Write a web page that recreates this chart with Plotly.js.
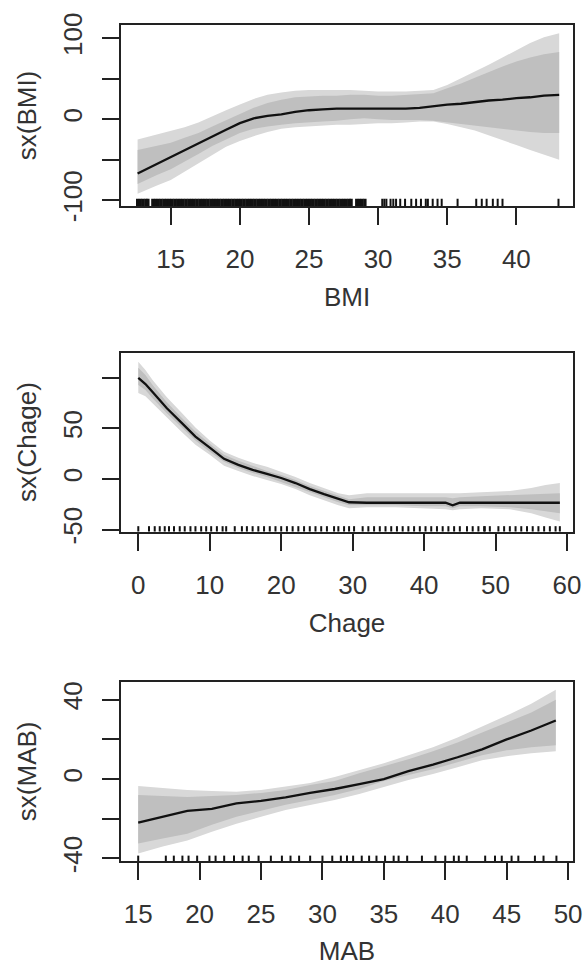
<!DOCTYPE html>
<html>
<head>
<meta charset="utf-8">
<script src="https://cdn.plot.ly/plotly-3.0.1.min.js"></script>
<style>html,body{margin:0;padding:0;background:#fff;}#chart{width:585px;height:966px;}</style>
</head>
<body>
<div id="chart"></div>
<script>
// ---------- Panel 1: BMI ----------
const bmiX      = [12.6, 14, 15, 16, 17, 18, 19, 20, 21, 22, 23, 24, 25, 26, 27, 28, 29, 30, 31, 32, 33, 34, 35, 36, 37, 38, 39, 40, 41, 42, 43.1];
const bmiFit    = [-67, -55, -47, -38, -30, -21, -13, -5, 1, 4, 6, 9, 11, 12, 13, 13, 13, 13, 13, 13, 14, 16, 18, 19, 21, 23, 24, 26, 27, 29, 30];
const bmiOutUp  = [-25, -19, -15, -10, -4, 4, 11, 18, 25, 30, 33, 35, 36, 36, 36, 36, 35, 34, 34, 34, 35, 36, 42, 50, 58, 67, 76, 85, 94, 101, 106];
const bmiInUp   = [-38, -33, -29, -23, -17, -9, -1, 7, 14, 20, 24, 27, 28, 29, 29, 30, 30, 29, 29, 30, 31, 32, 38, 44, 51, 58, 65, 71, 76, 80, 83];
const bmiInLow  = [-80, -69, -62, -53, -43, -33, -25, -17, -12, -9, -7, -5, -4, -3, -2, 0, 1, 0, -1, -1, -1, -2, -4, -6, -8, -10, -12, -14, -16, -17, -17];
const bmiOutLow = [-92, -82, -75, -65, -55, -44, -34, -27, -21, -16, -12, -10, -9, -8, -7, -7, -6, -5, -5, -4, -3, -3, -6, -10, -14, -20, -26, -32, -38, -44, -50];
const bmiRugDense = [12.6, 12.8, 13.0, 13.2, 13.35,
  13.7, 13.9, 14.1, 14.3, 14.5, 14.7, 14.9, 15.1, 15.3, 15.5, 15.7, 15.9, 16.1, 16.3, 16.5, 16.7, 16.9,
  17.1, 17.3, 17.5, 17.7, 17.9, 18.1, 18.3, 18.5, 18.7, 18.9, 19.1, 19.3, 19.5, 19.7, 19.9, 20.1, 20.3,
  20.5, 20.7, 20.9, 21.1, 21.3, 21.5, 21.7, 21.9, 22.1, 22.3, 22.5, 22.7, 22.9, 23.1, 23.3, 23.5, 23.7,
  23.9, 24.1, 24.3, 24.5, 24.7, 24.9, 25.1, 25.3, 25.5, 25.7, 25.9, 26.1, 26.3, 26.5, 26.7, 26.9, 27.1,
  27.3, 27.5, 27.7, 27.9, 28.05, 28.45, 28.65, 28.85, 29.05];
const bmiRugSparse = [30.3, 30.45, 30.6, 30.9, 31.1, 31.3, 31.6, 31.95, 32.4, 32.75, 33.1, 33.45, 33.6, 33.95, 34.3, 34.6, 35.75, 37.1, 37.5, 37.85, 38.3, 38.65, 39.0, 43.05];
const bmiXTicks = [15, 20, 25, 30, 35, 40];
const bmiYTicks = [100, 50, 0, -50, -100];
const bmiYLabels = ['100', '', '0', '', '-100'];

// ---------- Panel 2: Chage ----------
const ageX      = [0, 1, 2, 4, 6, 8, 10, 12, 14, 16, 18, 20, 22, 24, 26, 28, 29.5, 32, 36, 40, 43, 44, 45, 48, 52, 55, 57, 59];
const ageFit    = [100, 94, 86, 70, 56, 42, 31, 20, 14, 9, 5, 1, -4, -10, -15, -20, -23, -23.5, -23.5, -23.5, -23.5, -26, -23.5, -23.5, -23.5, -23.5, -23.5, -23.5];
const ageOutUp  = [116, 108, 98, 81, 66, 51, 38, 27, 21, 16, 12, 7, 2, -4, -9, -14, -16, -14, -14, -14, -14, -14, -14, -13, -12, -9, -6, -4];
const ageInUp   = [110, 103, 93, 76, 61, 47, 35, 24, 18, 13, 8, 4, -1, -7, -12, -17, -20, -18, -18, -18, -18, -19, -18, -17, -16, -15, -14.5, -14];
const ageInLow  = [93, 88, 80, 65, 51, 38, 27, 17, 11, 6, 2, -3, -8, -13, -18, -23, -26, -26, -26, -27, -27, -29, -27, -27, -28, -30, -32, -34];
const ageOutLow = [85, 82, 75, 61, 47, 34, 24, 13, 8, 3, -1, -5, -10, -16, -21, -26, -29, -28, -28, -29, -30, -31, -30, -29, -30, -34, -38, -42];
const ageRug = [0, 1.5, 2.3, 3, 3.7, 4.3, 5, 5.8, 6.5, 7.3, 8, 8.8, 9.5, 10.2, 11, 11.8, 12.3, 13.5, 14.5, 15.2, 16,
  16.8, 17.6, 18.4, 19.2, 20, 20.8, 21.6, 22.4, 23.2, 24, 24.8, 25.6, 26.4, 27.4, 28, 28.8, 29.5, 30.2, 31.4, 32.2,
  33, 33.8, 34.6, 35.4, 36.2, 37, 37.8, 38.6, 39.4, 40.2, 41, 41.8, 42.6, 43.4, 44.2, 45, 46, 46.8, 47.6, 48.4, 48.5,
  49.2, 50.4, 51.2, 52, 52.8, 53.6, 54.4, 55.2, 56, 56.8, 57.6, 58.4, 59];
const ageXTicks = [0, 10, 20, 30, 40, 50, 60];
const ageYTicks = [100, 50, 0, -50];
const ageYLabels = ['', '50', '0', '-50'];

// ---------- Panel 3: MAB ----------
const mabX      = [15, 17, 19, 21, 23, 25, 27, 29, 31, 33, 35, 37, 39, 41, 43, 45, 47, 49];
const mabFit    = [-22, -19, -16, -15, -12.3, -11, -9.2, -7, -5, -2.5, 0, 4, 7.3, 11, 15, 20, 24.5, 29.5];
const mabOutUp  = [-3.5, -4.5, -5.5, -6, -6.4, -5.5, -3.9, -2, 1, 4.5, 8, 12, 16, 21, 26.5, 32, 38, 45];
const mabInUp   = [-8, -8.5, -9, -8.5, -8, -7, -5.5, -3, -1, 3, 6.5, 10, 14, 18.5, 23.5, 28.5, 33.5, 40];
const mabInLow  = [-32.5, -30, -27.5, -23, -19, -16, -13, -10.5, -8, -5, -1, 2, 5, 8.5, 12, 14.5, 16, 17];
const mabOutLow = [-37.5, -34, -31, -26.5, -22.5, -19, -15.6, -13, -10.5, -7.5, -4, -0.5, 2.5, 6, 9.5, 11.5, 13, 14];
const mabRug = [15, 17.25, 17.9, 18.6, 19.1, 19.8, 20.8, 21.3, 22.0, 22.8, 23.5, 24.0, 24.8, 25.8, 26.7, 27.4, 28.1,
  29.0, 30.0, 30.8, 31.5, 32.0, 32.5, 33.2, 33.8, 34.4, 35.1, 35.8, 36.2, 36.9, 38.1, 39.2, 40.0, 40.7, 41.1, 41.75,
  43.25, 44.05, 44.6, 45.4, 45.95, 47.3, 48.0, 49.05];
const mabXTicks = [15, 20, 25, 30, 35, 40, 45, 50];
const mabYTicks = [40, 20, 0, -20, -40];
const mabYLabels = ['40', '', '0', '', '-40'];

// ---------- styling ----------
const FONT = 'Liberation Sans, Arial, sans-serif';
const TXT = '#333333';
const OUTER = '#d8d8d8';
const INNER = '#bfbfbf';

function band(x, up, low, color, xa, ya) {
  return {
    x: x.concat(x.slice().reverse()),
    y: up.concat(low.slice().reverse()),
    xaxis: xa, yaxis: ya, type: 'scatter', mode: 'lines',
    fill: 'toself', fillcolor: color, line: {width: 0, color: color},
    hoverinfo: 'skip', showlegend: false
  };
}
function fit(x, y, xa, ya) {
  return {x: x, y: y, xaxis: xa, yaxis: ya, type: 'scatter', mode: 'lines',
    line: {color: '#111', width: 2.3}, showlegend: false};
}
// rug: short vertical ticks standing on the bottom of the panel, placed with the x scale
function rugShapes(xs, xref, yref, frac, width) {
  return xs.map(v => ({
    type: 'line', xref: xref, yref: yref + ' domain',
    x0: v, x1: v, y0: 0, y1: frac,
    line: {color: '#111', width: width}, layer: 'above'
  }));
}

const yr1 = [-107.2, 116.2], yr2 = [-52, 125], yr3 = [-41.3, 49.1];

const traces = [
  band(bmiX, bmiOutUp, bmiOutLow, OUTER, 'x', 'y'),
  band(bmiX, bmiInUp, bmiInLow, INNER, 'x', 'y'),
  fit(bmiX, bmiFit, 'x', 'y'),

  band(ageX, ageOutUp, ageOutLow, OUTER, 'x2', 'y2'),
  band(ageX, ageInUp, ageInLow, INNER, 'x2', 'y2'),
  fit(ageX, ageFit, 'x2', 'y2'),

  band(mabX, mabOutUp, mabOutLow, OUTER, 'x3', 'y3'),
  band(mabX, mabInUp, mabInLow, INNER, 'x3', 'y3'),
  fit(mabX, mabFit, 'x3', 'y3')
];

const shapes = [].concat(
  rugShapes(bmiRugDense, 'x', 'y', 0.04, 3.2),
  rugShapes(bmiRugSparse, 'x', 'y', 0.04, 2),
  rugShapes(ageRug, 'x2', 'y2', 0.03, 2),
  rugShapes(mabRug, 'x3', 'y3', 0.03, 2)
);

function xAxis(range, ticks, title, anchor) {
  return {
    range: range, anchor: anchor, domain: [0, 1],
    tickmode: 'array', tickvals: ticks, ticktext: ticks.map(String),
    ticks: 'outside', ticklen: 17, tickwidth: 2, tickcolor: '#222',
    showline: true, mirror: true, linecolor: '#222', linewidth: 2,
    showgrid: false, zeroline: false,
    tickfont: {family: FONT, size: 26, color: TXT},
    ticklabelstandoff: 12,
    title: {text: title, font: {family: FONT, size: 26, color: TXT}, standoff: 15}
  };
}
function yAxis(range, ticks, labels, title, anchor, domain) {
  return {
    range: range, anchor: anchor, domain: domain,
    tickmode: 'array', tickvals: ticks, ticktext: labels,
    ticks: 'outside', ticklen: 17, tickwidth: 2, tickcolor: '#222', tickangle: -90,
    showline: true, mirror: true, linecolor: '#222', linewidth: 2,
    showgrid: false, zeroline: false,
    tickfont: {family: FONT, size: 26, color: TXT},
    ticklabelstandoff: 10,
    title: {text: title, font: {family: FONT, size: 26, color: TXT}, standoff: 13}
  };
}

const layout = {
  width: 585, height: 966,
  margin: {l: 121, r: 12, t: 25, b: 105},
  paper_bgcolor: '#fff', plot_bgcolor: '#fff',
  showlegend: false,
  shapes: shapes,
  xaxis:  xAxis([11.4, 44.1], bmiXTicks, 'BMI', 'y'),
  yaxis:  yAxis(yr1, bmiYTicks, bmiYLabels, 'sx(BMI)', 'x', [0.7835, 1]),
  xaxis2: xAxis([-2.42, 60.84], ageXTicks, 'Chage', 'y2'),
  yaxis2: yAxis(yr2, ageYTicks, ageYLabels, 'sx(Chage)', 'x2', [0.3941, 0.608]),
  xaxis3: xAxis([13.6, 50.4], mabXTicks, 'MAB', 'y3'),
  yaxis3: yAxis(yr3, mabYTicks, mabYLabels, 'sx(MAB)', 'x3', [0, 0.2145])
};

Plotly.newPlot('chart', traces, layout, {staticPlot: true, displayModeBar: false});
</script>
</body>
</html>
